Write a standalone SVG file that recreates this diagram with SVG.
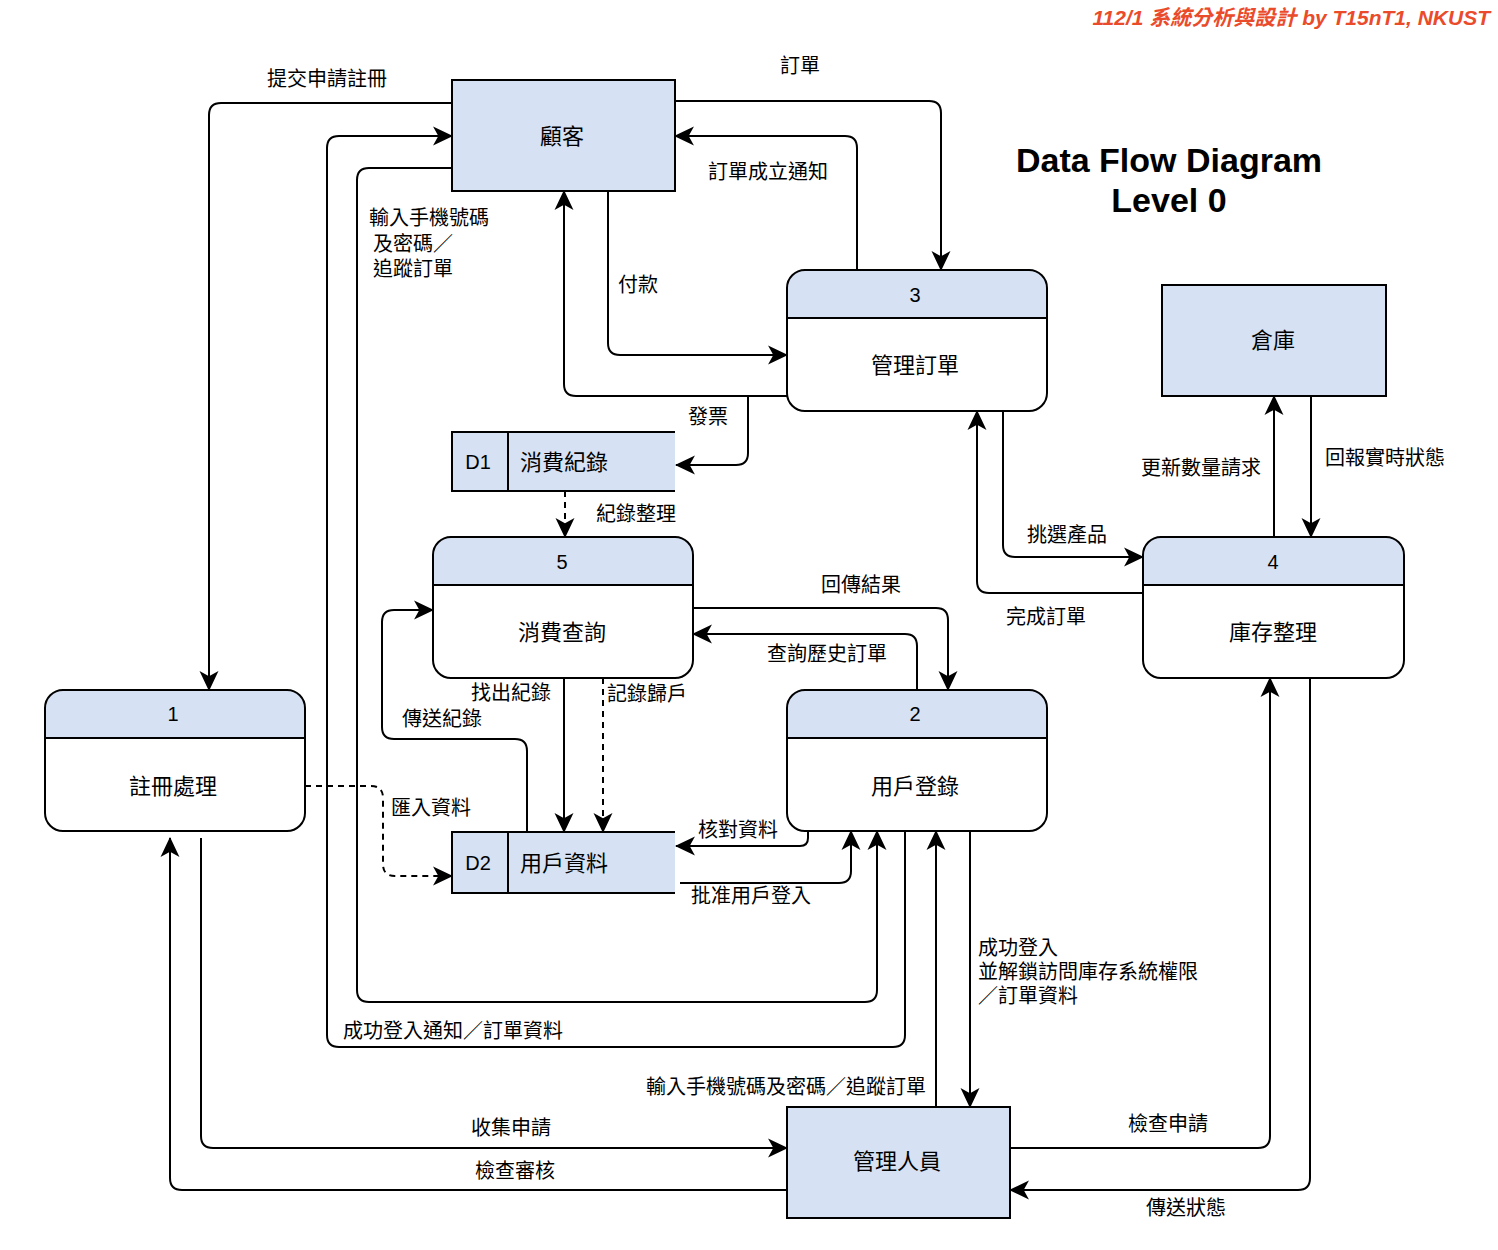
<svg xmlns="http://www.w3.org/2000/svg" width="1498" height="1250" viewBox="0 0 1498 1250">
<style>
text{font-family:"Liberation Sans","Noto Sans CJK TC",sans-serif;fill:#000}
.lb{font-size:20px}
.nd{font-size:22px;text-anchor:middle}
.num{font-size:20px;text-anchor:middle}
.c{text-anchor:middle}
.box{fill:#d6e1f3;stroke:#000;stroke-width:2}
.hd{fill:#d6e1f3}
.ol{fill:none;stroke:#000;stroke-width:2}
.e{fill:none;stroke:#000;stroke-width:2;marker-end:url(#a)}
.n{fill:none;stroke:#000;stroke-width:2}
.d{stroke-dasharray:6 5}
</style>
<defs>
<marker id="a" markerUnits="userSpaceOnUse" markerWidth="20" markerHeight="20" viewBox="0 0 19 18" refX="18" refY="9" orient="auto">
<path d="M0,0 L19,9 L0,18 L5,9 Z" fill="#000"/>
</marker>
</defs>

<text x="1490" y="25" style="font-size:21px;font-weight:bold;font-style:italic;fill:#ea4b2a;text-anchor:end">112/1 系統分析與設計 by T15nT1, NKUST</text>
<text x="1169" y="172" class="c" style="font-size:34px;font-weight:bold">Data Flow Diagram</text>
<text x="1169" y="212" class="c" style="font-size:34px;font-weight:bold">Level 0</text>

<g id="connectors">
<path class="e" d="M452,103 H221 Q209,103 209,115 V690"/>
<path class="e" d="M905,831 V1035 Q905,1047 893,1047 H339 Q327,1047 327,1035 V148 Q327,136 339,136 H452"/>
<path class="e" d="M452,168 H369 Q357,168 357,180 V990 Q357,1002 369,1002 H865 Q877,1002 877,990 V831"/>
<path class="e" d="M675,101 H929 Q941,101 941,113 V270"/>
<path class="e" d="M857,270 V148 Q857,136 845,136 H675"/>
<path class="e" d="M608,191 V343 Q608,355 620,355 H787"/>
<path class="e" d="M787,396 H576 Q564,396 564,384 V191"/>
<path class="e" d="M748,396 V453 Q748,465 736,465 H676"/>
<path class="e d" d="M565,491 V537"/>
<path class="e" d="M693,608 H936 Q948,608 948,620 V690"/>
<path class="e" d="M917,690 V646 Q917,634 905,634 H693"/>
<path class="e" d="M527,832 V751 Q527,739 515,739 H394 Q382,739 382,727 V622 Q382,610 394,610 H433"/>
<path class="e" d="M564,678 V832"/>
<path class="e d" d="M603,678 V832"/>
<path class="e d" d="M305,786 H371 Q383,786 383,798 V864 Q383,876 395,876 H452"/>
<path class="e" d="M808,831 V838 Q808,846 800,846 H676"/>
<path class="e" d="M680,883 H839 Q851,883 851,871 V831"/>
<path class="e" d="M936,1107 V831"/>
<path class="e" d="M970,831 V1107"/>
<path class="e" d="M201,838 V1136 Q201,1148 213,1148 H787"/>
<path class="e" d="M787,1190 H182 Q170,1190 170,1178 V838"/>
<path class="e" d="M1010,1148 H1258 Q1270,1148 1270,1136 V678"/>
<path class="e" d="M1310,678 V1178 Q1310,1190 1298,1190 H1010"/>
<path class="e" d="M1003,411 V545 Q1003,557 1015,557 H1143"/>
<path class="e" d="M1143,593 H989 Q977,593 977,581 V411"/>
<path class="e" d="M1274,537 V396"/>
<path class="e" d="M1311,396 V537"/>
</g>

<g id="labels" class="lb">
<text x="327" y="86" class="c">提交申請註冊</text>
<text x="800" y="73" class="c">訂單</text>
<text x="768" y="179" class="c">訂單成立通知</text>
<text x="638" y="292" class="c">付款</text>
<text x="369" y="225">輸入手機號碼</text>
<text x="373" y="251">及密碼／</text>
<text x="373" y="276">追蹤訂單</text>
<text x="708" y="424" class="c">發票</text>
<text x="636" y="521" class="c">紀錄整理</text>
<text x="861" y="592" class="c">回傳結果</text>
<text x="827" y="661" class="c">查詢歷史訂單</text>
<text x="1046" y="624" class="c">完成訂單</text>
<text x="1067" y="542" class="c">挑選產品</text>
<text x="1201" y="475" class="c">更新數量請求</text>
<text x="1385" y="465" class="c">回報實時狀態</text>
<text x="511" y="700" class="c">找出紀錄</text>
<text x="442" y="726" class="c">傳送紀錄</text>
<text x="607" y="701">記錄歸戶</text>
<text x="431" y="815" class="c">匯入資料</text>
<text x="738" y="837" class="c">核對資料</text>
<text x="751" y="903" class="c">批准用戶登入</text>
<text x="978" y="955">成功登入</text>
<text x="978" y="979">並解鎖訪問庫存系統權限</text>
<text x="978" y="1003">／訂單資料</text>
<text x="453" y="1038" class="c">成功登入通知／訂單資料</text>
<text x="786" y="1094" class="c">輸入手機號碼及密碼／追蹤訂單</text>
<text x="511" y="1135" class="c">收集申請</text>
<text x="515" y="1178" class="c">檢查審核</text>
<text x="1168" y="1131" class="c">檢查申請</text>
<text x="1186" y="1215" class="c">傳送狀態</text>
</g>

<g id="customer">
<rect class="box" x="452" y="80" width="223" height="111"/>
<text x="562" y="144" class="nd">顧客</text>
</g>

<g id="warehouse">
<rect class="box" x="1162" y="285" width="224" height="111"/>
<text x="1273" y="348" class="nd">倉庫</text>
</g>

<g id="admin">
<rect class="box" x="787" y="1107" width="223" height="111"/>
<text x="897" y="1169" class="nd">管理人員</text>
</g>

<g id="p3">
<rect x="787" y="270" width="260" height="141" rx="18" fill="#fff"/>
<path class="hd" d="M787,318 V288 A18,18 0 0 1 805,270 H1029 A18,18 0 0 1 1047,288 V318 Z"/>
<rect class="ol" x="787" y="270" width="260" height="141" rx="18"/>
<path class="n" d="M787,318 H1047"/>
<text x="915" y="302" class="num">3</text>
<text x="915" y="373" class="nd">管理訂單</text>
</g>

<g id="p4">
<rect x="1143" y="537" width="261" height="141" rx="18" fill="#fff"/>
<path class="hd" d="M1143,585 V555 A18,18 0 0 1 1161,537 H1386 A18,18 0 0 1 1404,555 V585 Z"/>
<rect class="ol" x="1143" y="537" width="261" height="141" rx="18"/>
<path class="n" d="M1143,585 H1404"/>
<text x="1273" y="569" class="num">4</text>
<text x="1273" y="640" class="nd">庫存整理</text>
</g>

<g id="p5">
<rect x="433" y="537" width="260" height="141" rx="18" fill="#fff"/>
<path class="hd" d="M433,585 V555 A18,18 0 0 1 451,537 H675 A18,18 0 0 1 693,555 V585 Z"/>
<rect class="ol" x="433" y="537" width="260" height="141" rx="18"/>
<path class="n" d="M433,585 H693"/>
<text x="562" y="569" class="num">5</text>
<text x="562" y="640" class="nd">消費查詢</text>
</g>

<g id="p1">
<rect x="45" y="690" width="260" height="141" rx="18" fill="#fff"/>
<path class="hd" d="M45,738 V708 A18,18 0 0 1 63,690 H287 A18,18 0 0 1 305,708 V738 Z"/>
<rect class="ol" x="45" y="690" width="260" height="141" rx="18"/>
<path class="n" d="M45,738 H305"/>
<text x="173" y="721" class="num">1</text>
<text x="173" y="794" class="nd">註冊處理</text>
</g>

<g id="p2">
<rect x="787" y="690" width="260" height="141" rx="18" fill="#fff"/>
<path class="hd" d="M787,738 V708 A18,18 0 0 1 805,690 H1029 A18,18 0 0 1 1047,708 V738 Z"/>
<rect class="ol" x="787" y="690" width="260" height="141" rx="18"/>
<path class="n" d="M787,738 H1047"/>
<text x="915" y="721" class="num">2</text>
<text x="915" y="794" class="nd">用戶登錄</text>
</g>

<g id="d1">
<rect x="452" y="432" width="223" height="59" fill="#d6e1f3"/>
<path class="n" d="M675,432 H452 V491 H675 M508,432 V491"/>
<text x="478" y="469" class="num">D1</text>
<text x="520" y="470" style="font-size:22px">消費紀錄</text>
</g>

<g id="d2">
<rect x="452" y="832" width="223" height="61" fill="#d6e1f3"/>
<path class="n" d="M675,832 H452 V893 H675 M508,832 V893"/>
<text x="478" y="870" class="num">D2</text>
<text x="520" y="871" style="font-size:22px">用戶資料</text>
</g>
</svg>
